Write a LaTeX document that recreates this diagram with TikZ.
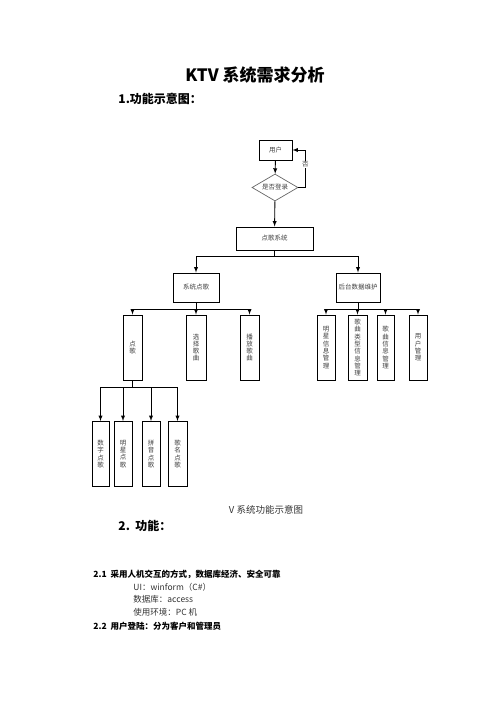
\documentclass[tikz,border=0pt]{standalone}
\usepackage{fontspec}
\setmainfont{Noto Sans CJK SC}
\usepackage{tikz}
\usetikzlibrary{arrows,shapes.geometric}

\newcommand{\boxfont}{\fontsize{6.5}{7.3}\selectfont}
\newcommand{\bodyfont}{\fontsize{8.5}{10}\selectfont}

\begin{document}
\begin{tikzpicture}[x=1pt, y=-1pt, >=latex, line width=0.9pt,
    box/.style={draw, inner sep=0pt, font=\boxfont, text=black!75, align=center},
    hbox/.style={box, minimum width=#1, minimum height=29},
    vbox/.style={box, minimum width=#1, minimum height=65},
    heading/.style={anchor=west, inner sep=0pt, font=\fontsize{12}{14}\selectfont\bfseries},
    body/.style={anchor=west, inner sep=0pt, font=\bodyfont, text=black!80}]
            \useasboundingbox (0,0) rectangle (496,702);

            % headings
            \node[inner sep=0pt, font=\fontsize{17}{20}\selectfont\bfseries] (title) at (255,75) {KTV 系统需求分析};
            \node[heading] (head1) at (118,99) {1.功能示意图：};

            % top of the chart
            \node[box, minimum width=33, minimum height=20] (yh) at (275.5,150) {用户};
            \node[box, diamond, draw=black!60, line width=0.7pt, aspect=1.7, minimum width=46, minimum height=27] (sfdl) at (275,187.5) {是否登录};
            \node[box, minimum width=77, minimum height=23] (dgxt) at (274.5,238.5) {点歌系统};

            \node[hbox=46] (xtdg) at (196,287.5) {系统点歌};
            \node[hbox=44] (htwh) at (358,287.5) {后台数据维护};

            \node[vbox=19] (dg) at (132.5,347.5) {点\\歌};
            \node[vbox=20] (xzgq) at (196,347.5) {选\\择\\歌\\曲};
            \node[vbox=19] (bfgq) at (249.5,347.5) {播\\放\\歌\\曲};

            \node[vbox=18] (mxgl) at (326,347.5) {明\\星\\信\\息\\管\\理};
            \node[vbox=19] (lxgl) at (357.5,347.5) {歌\\曲\\类\\型\\信\\息\\管\\理};
            \node[vbox=17] (gqgl) at (385.5,347.5) {歌\\曲\\信\\息\\管\\理};
            \node[vbox=18] (yhgl) at (418,347.5) {用\\户\\管\\理};

            \node[vbox=17] (szdg) at (100.5,454) {数\\字\\点\\歌};
            \node[vbox=18] (mxdg) at (123,454) {明\\星\\点\\歌};
            \node[vbox=18] (pydg) at (151,454) {拼\\音\\点\\歌};
            \node[vbox=19] (gmdg) at (177.5,454) {歌\\名\\点\\歌};

            % login loop
            \draw[->] (yh) -- (sfdl);
            \draw[->] (sfdl) -- (dgxt);
            \draw[->] (sfdl.east) -- ++(7,0) |- (yh.east)
                node[pos=0.31, fill=white, inner sep=0.5pt, font=\boxfont, text=black!75] {否};

            % tree
            \draw[->] (dgxt.south) -- ++(0,6) -| (xtdg.north);
            \draw[->] (dgxt.south) -- ++(0,6) -| (htwh.north);

            \draw[->] (xtdg.south) -- ++(0,7) -| (dg.north);
            \draw[->] (xtdg.south) -- ++(0,7) -| (xzgq.north);
            \draw[->] (xtdg.south) -- ++(0,7) -| (bfgq.north);

            \draw[->] (htwh.south) -- ++(0,7) -| (mxgl.north);
            \draw[->] (htwh.south) -- ++(0,7) -| (lxgl.north);
            \draw[->] (htwh.south) -- ++(0,7) -| (gqgl.north);
            \draw[->] (htwh.south) -- ++(0,7) -| (yhgl.north);

            \draw[->] (dg.south) -- ++(0,7) -| (szdg.north);
            \draw[->] (dg.south) -- ++(0,7) -| (mxdg.north);
            \draw[->] (dg.south) -- ++(0,7) -| (pydg.north);
            \draw[->] (dg.south) -- ++(0,7) -| (gmdg.north);

            % caption and text
            \node[inner sep=0pt, font=\fontsize{9.5}{11}\selectfont, text=black!80] (cap) at (266,510) {V 系统功能示意图};
            \node[heading] (head2) at (118,526) {2.\ \ 功能：};
            \node[body, font=\bodyfont\bfseries, text=black] (t21) at (93,574) {2.1\ \ 采用人机交互的方式，数据库经济、安全可靠};
            \node[body] (ui) at (133,587) {UI：winform（C\#）};
            \node[body] (db) at (133,599) {数据库：access};
            \node[body] (env) at (133,612) {使用环境：PC 机};
            \node[body, font=\bodyfont\bfseries, text=black] (t22) at (93,626) {2.2\ \ 用户登陆：分为客户和管理员};
         \end{tikzpicture}
\end{document}
